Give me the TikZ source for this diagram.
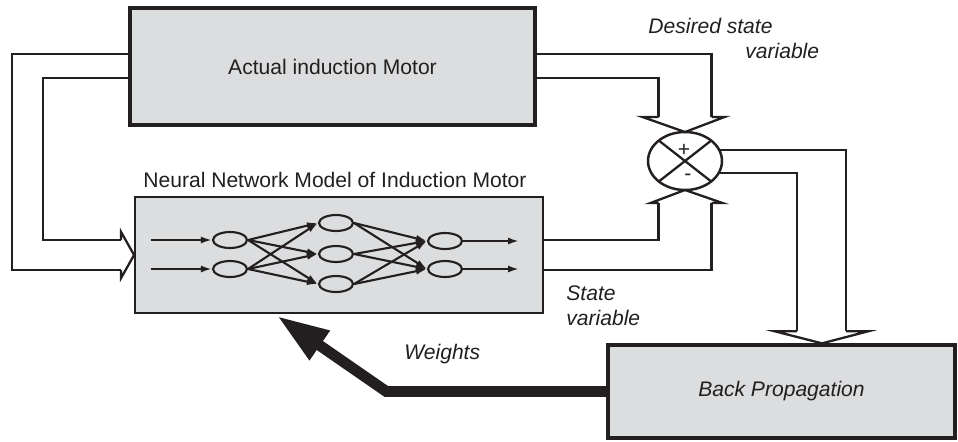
\documentclass[tikz,border=0pt]{standalone}
\usepackage{fontspec}
\setmainfont{Liberation Sans}
\usepackage{xcolor}
\usetikzlibrary{arrows.meta,positioning,calc,shapes.geometric}
\definecolor{Ink}{HTML}{231F20}
\definecolor{Panel}{HTML}{DCDDDF}
\tikzset{
  txt/.style={font=\fontsize{12}{14}\selectfont,text=Ink,inner sep=0pt},
  slant/.style={txt,font=\fontsize{12}{14}\selectfont\itshape},
  block/.style={draw=Ink,fill=Panel,line width=2pt,txt},
  netbox/.style={draw=Ink,fill=Panel,line width=1.1pt,inner sep=0pt},
  neuron/.style={draw=Ink,ellipse,line width=1.2pt,minimum width=0.68cm,minimum height=0.32cm,inner sep=0pt},
  summer/.style={draw=Ink,ellipse,line width=1.4pt,minimum width=1.48cm,minimum height=1.16cm,inner sep=0pt,outer sep=0pt},
  wire/.style={draw=Ink,line width=1.3pt,line join=miter},
  syn/.style={-{Latex[length=0.22cm,width=0.14cm]},draw=Ink,line width=1.2pt},
  weights/.style={-{Triangle[length=1.04cm,width=0.66cm]},draw=Ink,line width=6.2pt,line join=miter}
}

\begin{document}
\begin{tikzpicture}[x=0.02cm,y=-0.02cm]
  \useasboundingbox (0,0) rectangle (958,441);
  % blocks
  \node[block,minimum width=8.1cm,minimum height=2.34cm] (motor) at (332.5,66.5) {Actual induction Motor};
  \node[netbox,minimum width=8.16cm,minimum height=2.32cm] (nn) at (339,255) {};
  \node[block,slant,line width=1.9pt,minimum width=6.94cm,minimum height=1.86cm] (bp) at (781.5,391.5) {Back Propagation};
  \node[summer] (sum) at (685,161) {};
  \node[txt,anchor=base west] (nnlabel) at (143,187) {Neural Network Model of Induction Motor};

  % network inside the model
  \node[neuron] (i1) at (230,240) {};
  \node[neuron] (i2) at (230,269) {};
  \node[neuron] (h1) at (336,223) {};
  \node[neuron] (h2) at (336,254) {};
  \node[neuron] (h3) at (336,284) {};
  \node[neuron] (o1) at (445,241) {};
  \node[neuron] (o2) at (445,269) {};
  \foreach \a in {i1,i2} \foreach \b in {h1,h2,h3} \draw[syn] (\a.east) -- (\b.west);
  \foreach \b in {h1,h2,h3} \foreach \c in {o1,o2} \draw[syn] (\b.east) -- (\c.west);
  \foreach \a in {i1,i2} \draw[syn] ($(\a.west)+(-61,0)$) -- (\a.west);
  \foreach \c in {o1,o2} \draw[syn] (\c.east) -- ($(\c.east)+(56,0)$);

  % summing junction
  \draw[wire] (sum.38) -- (sum.218);
  \draw[wire] (sum.142) -- (sum.-38);
  \node[txt] (plus) at (684,150) {+};
  \node[txt] (minus) at (688,177) {-};

  % hollow arrow ends
  \coordinate (sTopL) at ($(sum.north)+(-26.5,-15)$);
  \coordinate (sTopR) at ($(sum.north)+(26.5,-15)$);
  \coordinate (sBotL) at ($(sum.south)+(-26.5,13)$);
  \coordinate (sBotR) at ($(sum.south)+(26.5,13)$);
  \coordinate (nnInA) at ($(nn.west)+(-13,-15)$);
  \coordinate (nnInB) at ($(nn.west)+(-13,15)$);
  \coordinate (bpTip) at ($(bp.north)+(40.5,0)$);
  \coordinate (bpInL) at ($(bpTip)+(-25,-12)$);
  \coordinate (bpInR) at ($(bpTip)+(24,-12)$);

  % wires
  \draw[wire] ($(motor.east)+(0,-12.5)$) -| (sTopR);
  \draw[wire] ($(motor.east)+(0,11.5)$) -| (sTopL);
  \draw[wire] (sTopL) -- ++(-16,0) -- (sum.north) -- ($(sTopR)+(13,0)$) -- (sTopR);
  \draw[wire] ($(nn.east)+(0,-15)$) -| (sBotL);
  \draw[wire] ($(nn.east)+(0,15)$) -| (sBotR);
  \draw[wire] (sBotL) -- ++(-8,0) -- (sum.south) -- ($(sBotR)+(11,0)$) -- (sBotR);
  \draw[wire] ($(motor.west)+(0,-12.5)$) -| ($(nnInB)+(-109,0)$) -- (nnInB);
  \draw[wire] ($(motor.west)+(0,11.5)$) -| ($(nnInA)+(-78,0)$) -- (nnInA);
  \draw[wire] (nnInA) -- ++(0,-8) -- (nn.west) -- ($(nnInB)+(0,8)$) -- (nnInB);
  \draw[wire] (sum.18) -| (bpInR);
  \draw[wire] (sum.-19) -| (bpInL);
  \draw[wire] (bpInL) -- ++(-22,0) -- (bpTip) -- ($(bpInR)+(22,0)$) -- (bpInR);

  % weights update
  \coordinate (wBend) at ($(bp.west)+(-220,0)$);
  \coordinate (wTip) at ($(nn.south west)+(143,2)$);
  \draw[weights] (bp.west) -- (wBend) -- (wTip);

  % labels
  \node[slant,anchor=base west,align=left] (desired) at (648,58) {Desired state\\\hspace*{4.6em}variable};
  \node[slant,anchor=base west,align=left] (state) at (566,325) {State\\variable};
  \node[slant,anchor=base west] (wlabel) at (404,359) {Weights};
\end{tikzpicture}
\end{document}
